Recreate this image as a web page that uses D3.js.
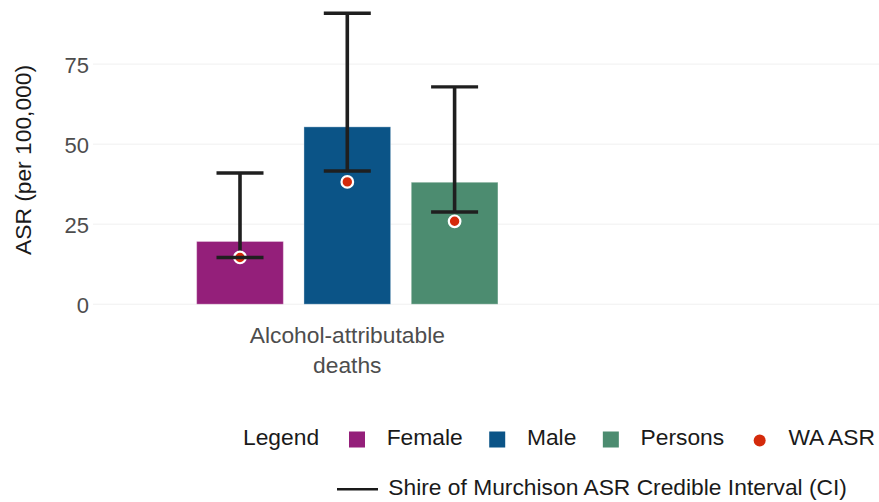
<!DOCTYPE html>
<html>
<head>
<meta charset="utf-8">
<script src="https://cdn.jsdelivr.net/npm/d3@7"></script>
<style>
  html, body { margin: 0; padding: 0; background: #fff; }
  text { font-family: "Liberation Sans", Arial, Helvetica, sans-serif; }
</style>
</head>
<body>
<svg id="chart" width="879" height="502"></svg>
<script>
// ---- data ----
const categories = ["Alcohol-attributable deaths"];
const categoryLines = [["Alcohol-attributable", "deaths"]];
const series = ["Female", "Male", "Persons"];
const seriesColors = ["#941F7A", "#0B5487", "#4C8C70"];
const asrValues = [19.6, 55.4, 38.1];
const ciLower = [14.6, 41.6, 28.8];
const ciUpper = [41.0, 90.9, 67.9];
const waAsr = [14.6, 38.2, 25.9];
const yTicks = [0, 25, 50, 75];
const yTitle = "ASR (per 100,000)";
const legendTitle = "Legend";
const waLabel = "WA ASR";
const ciLabel = "Shire of Murchison ASR Credible Interval (CI)";
const waColor = "#D42A0B";

// ---- layout ----
const svg = d3.select("#chart");
const plotLeft = 93, plotRight = 879;
const font = "'Liberation Sans', Arial, Helvetica, sans-serif";
const fs = 22.8;

const y = d3.scaleLinear().domain([0, 95]).range([304.2, 0.1]);
const x0 = d3.scaleBand().domain(categories).range([plotLeft, 601.6]).padding(0);
const x1 = d3.scaleBand().domain(series).range([0, x0.bandwidth()])
  .paddingInner(0.192).paddingOuter(0.966);

// gridlines
svg.append("g").selectAll("line").data(yTicks).join("line")
  .attr("x1", plotLeft).attr("x2", plotRight)
  .attr("y1", d => y(d)).attr("y2", d => y(d))
  .attr("stroke", "#f0f0f0").attr("stroke-width", 1);

// y axis tick labels
const yAxis = d3.axisLeft(y).tickValues(yTicks).tickSize(0).tickPadding(0);
const gy = svg.append("g").attr("transform", `translate(89,0)`).call(yAxis);
gy.select(".domain").remove();
gy.selectAll("text").attr("font-size", 22).attr("fill", "#4d4d4d")
  .attr("font-family", font).attr("dy", "0.36em");

// y title
svg.append("text")
  .attr("transform", `translate(31,160) rotate(-90)`)
  .attr("text-anchor", "middle")
  .attr("font-size", fs).attr("fill", "#1a1a1a")
  .text(yTitle);

// x labels
categories.forEach((c, ci) => {
  const cx = x0(c) + x0.bandwidth() / 2;
  const t = svg.append("text").attr("text-anchor", "middle")
    .attr("font-size", fs).attr("fill", "#4d4d4d");
  categoryLines[ci].forEach((ln, i) => {
    t.append("tspan").attr("x", cx).attr("y", 343.3 + i * 29.4).text(ln);
  });
});

// bars
const rows = series.map((s, i) => ({
  cat: categories[0], s, color: seriesColors[i],
  v: asrValues[i], lo: ciLower[i], hi: ciUpper[i], wa: waAsr[i]
}));
const g = svg.append("g");
g.selectAll("rect").data(rows).join("rect")
  .attr("x", d => x0(d.cat) + x1(d.s))
  .attr("width", x1.bandwidth())
  .attr("y", d => y(d.v))
  .attr("height", d => y(0) - y(d.v))
  .attr("fill", d => d.color)
  .attr("stroke", "rgba(255,255,255,0.35)").attr("stroke-width", 1);

// error bars
const capW = 47;
const eb = g.selectAll("g.eb").data(rows).join("g").attr("class", "eb");
const cxOf = d => x0(d.cat) + x1(d.s) + x1.bandwidth() / 2;
eb.append("line")
  .attr("x1", cxOf).attr("x2", cxOf)
  .attr("y1", d => y(d.lo)).attr("y2", d => y(d.hi))
  .attr("stroke", "#1f1f1f").attr("stroke-width", 3.6);
eb.append("line")
  .attr("x1", d => cxOf(d) - capW / 2).attr("x2", d => cxOf(d) + capW / 2)
  .attr("y1", d => y(d.hi)).attr("y2", d => y(d.hi))
  .attr("stroke", "#1f1f1f").attr("stroke-width", 3.4);

// WA points (drawn before lower cap so cap sits on top)
eb.append("circle")
  .attr("cx", cxOf).attr("cy", d => y(d.wa)).attr("r", 5.8)
  .attr("fill", waColor).attr("stroke", "#fff").attr("stroke-width", 2.2);
eb.append("line")
  .attr("x1", d => cxOf(d) - capW / 2).attr("x2", d => cxOf(d) + capW / 2)
  .attr("y1", d => y(d.lo)).attr("y2", d => y(d.lo))
  .attr("stroke", "#1f1f1f").attr("stroke-width", 3.4);

// ---- legend ----
const lg = svg.append("g");
const row1Base = 445;
lg.append("text").attr("x", 243).attr("y", row1Base)
  .attr("font-size", fs).attr("fill", "#1a1a1a").text(legendTitle);
let cursor = 349;
const items = series.map((s, i) => ({ label: s, color: seriesColors[i], type: "rect" }))
  .concat([{ label: waLabel, color: waColor, type: "dot" }]);
items.forEach(it => {
  if (it.type === "rect") {
    lg.append("rect").attr("x", cursor).attr("y", 431.5).attr("width", 16).attr("height", 16)
      .attr("fill", it.color);
  } else {
    lg.append("circle").attr("cx", cursor + 9).attr("cy", 440.5).attr("r", 6)
      .attr("fill", it.color);
  }
  const t = lg.append("text").attr("x", cursor + 37.7).attr("y", row1Base)
    .attr("font-size", fs).attr("fill", "#1a1a1a").text(it.label);
  cursor = cursor + 37.7 + t.node().getComputedTextLength() + 26.5;
});

// row 2: CI line
lg.append("line").attr("x1", 337).attr("x2", 378).attr("y1", 489.3).attr("y2", 489.3)
  .attr("stroke", "#1a1a1a").attr("stroke-width", 2.5);
lg.append("text").attr("x", 388.3).attr("y", 494.5)
  .attr("font-size", fs).attr("fill", "#1a1a1a").text(ciLabel);
</script>
</body>
</html>
